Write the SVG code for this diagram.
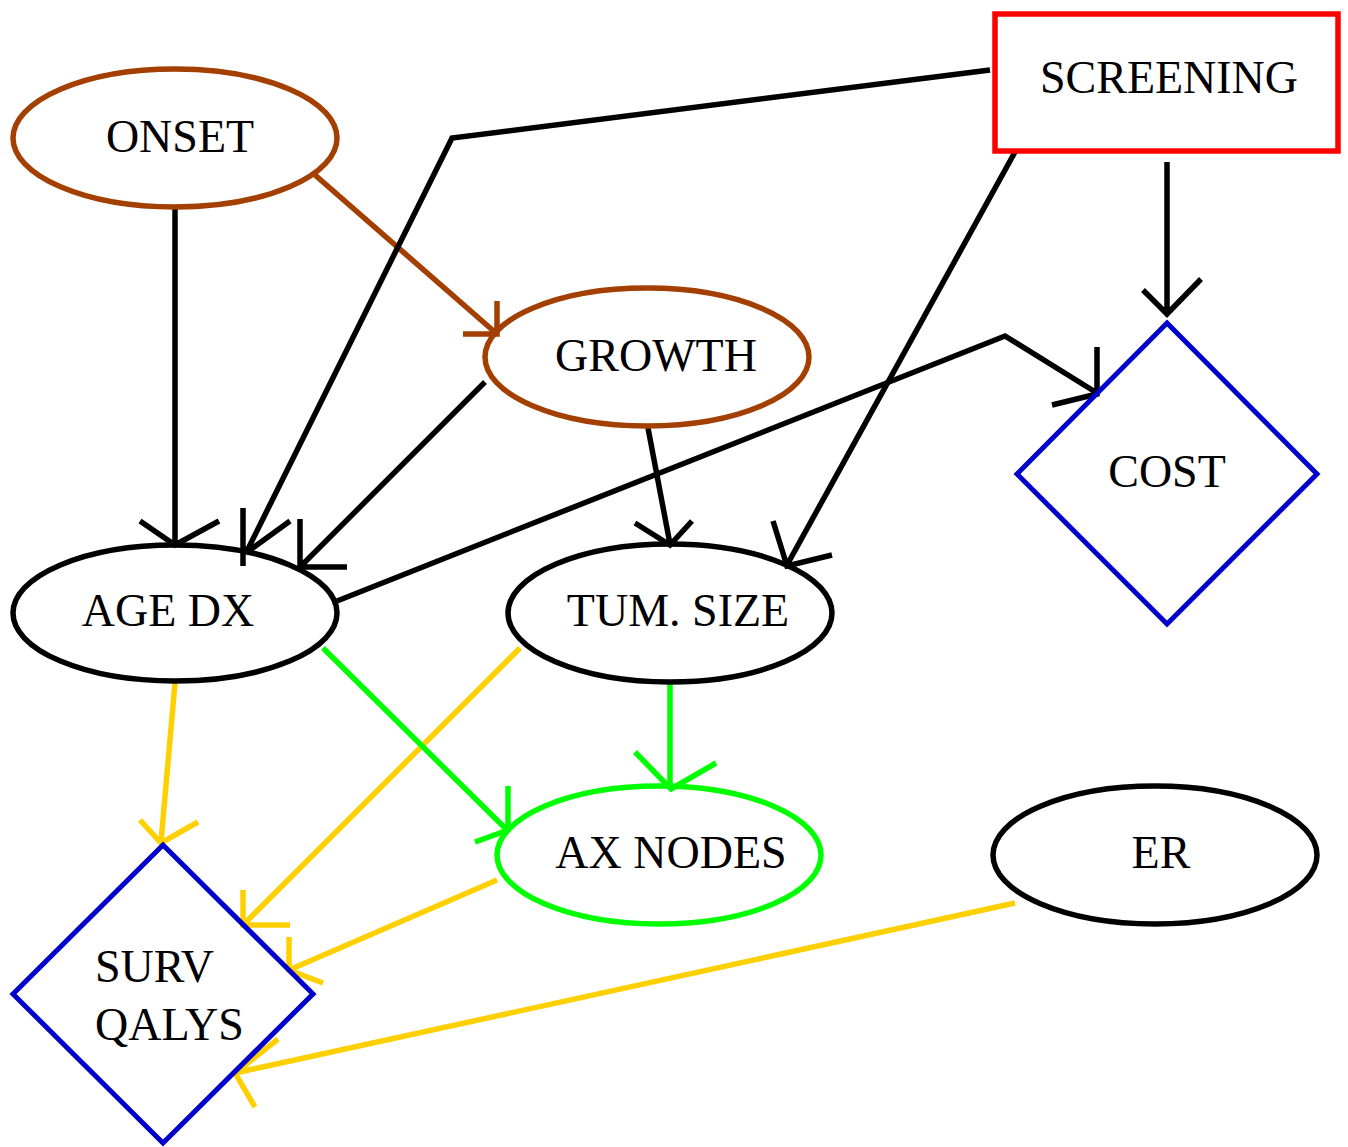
<svg xmlns="http://www.w3.org/2000/svg" width="1348" height="1147" viewBox="0 0 1348 1147">
<style>
text{font-family:"Liberation Serif","Times New Roman",serif;font-size:46px;fill:#000}
.n{fill:none;stroke-width:5.5}
.e{fill:none;stroke-width:5.5;stroke-linejoin:miter;stroke-linecap:butt}
.k{stroke:#000}.b{stroke:#A33F00}.y{stroke:#FFD000}.g{stroke:#00FF00}
</style>
<rect width="1348" height="1147" fill="#fff"/>
<g id="connectors">
<path class="e k" d="M175,208V543M140,521L175,545L219,521"/>
<path class="e b" d="M315,175L497,334M497,301V334H463"/>
<path class="e k" d="M990,70L452,138L246,553M243,508V566M290,521L246,553"/>
<path class="e k" d="M485,382L300,567M300,519V567H347"/>
<path class="e k" d="M648,428L670,544M635,523L670,545L692,521"/>
<path class="e k" d="M1015,152L787,565M773,521L787,566L832,555"/>
<path class="e k" d="M1167,162V314M1143,290L1167,314L1201,279"/>
<path class="e k" d="M337,601L1005,336L1097,393M1097,347V394L1052,405"/>
<path class="e y" d="M175,683L161,842M140,820L161,843L198,822"/>
<path class="e y" d="M520,648L244,924M243,890V925H290"/>
<path class="e y" d="M497,880L289,970M289,937V970L323,983"/>
<path class="e y" d="M1015,903L235,1073M278,1039L235,1073L255,1107"/>
<path class="e g" d="M323,648L507,830M508,786V830L475,842"/>
<path class="e g" d="M670,683V787M635,752L671,789L716,763"/>
</g>
<g id="onset"><ellipse class="n b" cx="175" cy="138" rx="162" ry="69"/><text x="180" y="152" text-anchor="middle">ONSET</text></g>
<g id="screening"><rect x="995" y="14" width="343" height="137" fill="none" stroke="#FF0000" stroke-width="5.5"/><text x="1169" y="93" text-anchor="middle">SCREENING</text></g>
<g id="growth"><ellipse class="n b" cx="647" cy="357" rx="162" ry="69"/><text x="656" y="371" text-anchor="middle">GROWTH</text></g>
<g id="cost"><polygon points="1167,323 1317,474 1167,624 1017,474" fill="none" stroke="#0000CC" stroke-width="5"/><text x="1167" y="487" text-anchor="middle">COST</text></g>
<g id="agedx"><ellipse class="n k" cx="175" cy="613" rx="162" ry="68"/><text x="168" y="626" text-anchor="middle">AGE DX</text></g>
<g id="tumsize"><ellipse class="n k" cx="670" cy="613" rx="162" ry="69"/><text x="678" y="626" text-anchor="middle">TUM. SIZE</text></g>
<g id="axnodes"><ellipse class="n g" cx="659" cy="855" rx="162" ry="69"/><text x="671" y="868" text-anchor="middle">AX NODES</text></g>
<g id="er"><ellipse class="n k" cx="1155" cy="855" rx="162" ry="69"/><text x="1161" y="868" text-anchor="middle">ER</text></g>
<g id="survqalys"><polygon points="163,845 313,994 163,1143 13,994" fill="none" stroke="#0000CC" stroke-width="5"/><text x="95" y="982">SURV</text><text x="95" y="1040">QALYS</text></g>
</svg>
